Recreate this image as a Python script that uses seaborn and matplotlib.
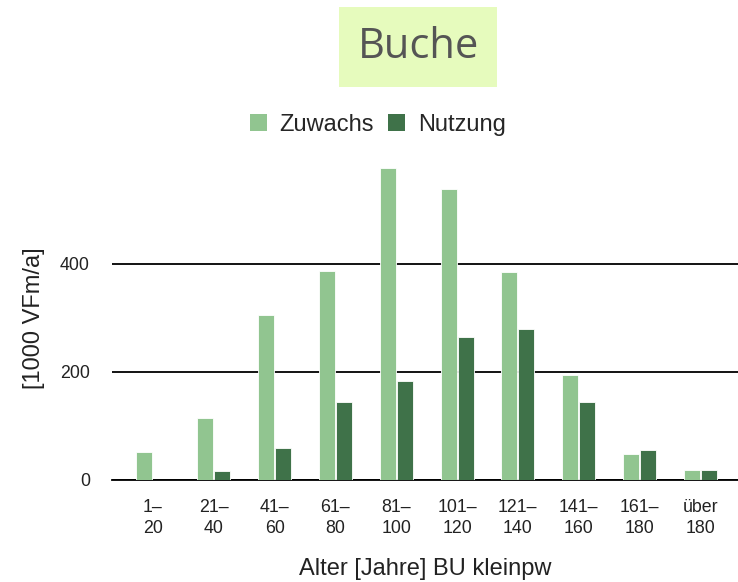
import matplotlib
matplotlib.use("Agg")
import matplotlib.pyplot as plt
import seaborn as sns
import pandas as pd
from matplotlib.patches import Patch

categories = ["1–\n20", "21–\n40", "41–\n60", "61–\n80", "81–\n100", "101–\n120",
              "121–\n140", "141–\n160", "161–\n180", "über\n180"]
zuwachs = [51, 114, 305, 387, 577, 538, 385, 195, 48, 19]
nutzung = [0, 16, 59, 144, 183, 264, 280, 145, 55, 19]
series_names = ["Zuwachs", "Nutzung"]
colors = ["#91c590", "#3f7249"]

df = pd.DataFrame({
    "Alter": categories * 2,
    "Wert": zuwachs + nutzung,
    "Serie": [series_names[0]] * len(categories) + [series_names[1]] * len(categories),
})

sns.set_theme(style="white")
plt.rcParams['font.family'] = ['Liberation Sans', 'DejaVu Sans']

fig = plt.figure(figsize=(7.38, 5.82), dpi=100)
ax = fig.add_axes([112/738, (582-480)/582, 1 - 112/738, (480-156)/582])

sns.barplot(data=df, x="Alter", y="Wert", hue="Serie", palette=colors,
            saturation=1, width=0.56, gap=0.06, edgecolor="white", linewidth=0.6,
            ax=ax, legend=False, zorder=3)

ax.set_xlim(-0.674, 9.62)
ax.set_ylim(0, 600)
ax.set_yticks([0, 200, 400])
ax.yaxis.grid(True, color="black", linewidth=1.3, zorder=0)
ax.set_axisbelow(True)
for s in ["top", "right", "left"]:
    ax.spines[s].set_visible(False)
ax.spines["bottom"].set_color("black")
ax.spines["bottom"].set_linewidth(1.3)
ax.tick_params(axis="y", length=0, pad=16, labelsize=12.8, labelcolor="#222222")
ax.tick_params(axis="x", length=0, pad=14, labelsize=12.8, labelcolor="#222222")
for lbl in ax.get_xticklabels():
    lbl.set_horizontalalignment("center")
    lbl.set_linespacing(1.3)

ax.set_xlabel("Alter [Jahre] BU kleinpw", fontsize=17, color="#222222", labelpad=15)
ax.set_ylabel("[1000 VFm/a]", fontsize=17, color="#222222", labelpad=11)

handles = [Patch(facecolor=c, edgecolor="none") for c in colors]
fig.legend(handles, series_names, loc="center", bbox_to_anchor=(378/738, 1 - 125/582),
           ncol=2, frameon=False, fontsize=17, handlelength=0.7, handleheight=0.7,
           handletextpad=0.55, columnspacing=0.6)

fig.text(418/738, 1 - 47/582, "Buche", ha="center", va="center", fontsize=30,
         color="#555555", family=["Open Sans", "DejaVu Sans"],
         bbox=dict(boxstyle="square,pad=0.45", facecolor="#e6fbbd", edgecolor="none"))

fig.savefig("out.png", dpi=100)
